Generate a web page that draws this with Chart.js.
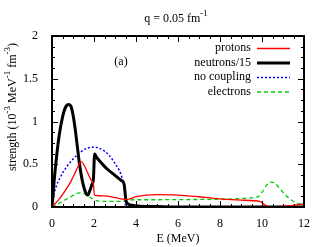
<!DOCTYPE html>
<html>
<head>
<meta charset="utf-8">
<script src="https://cdn.jsdelivr.net/npm/chart.js@4"></script>
<style>
  html, body { margin: 0; padding: 0; background: #fff; }
  #wrap { width: 327px; height: 247px; }
</style>
</head>
<body>
<div id="wrap"><canvas id="strength-chart" width="327" height="247"></canvas></div>
<script>
// energies (MeV) and strengths (10^-3 MeV^-1 fm^-3)
const eProtons = [0, 0.3, 0.6, 0.9, 1.1, 1.25, 1.38, 1.55, 1.7, 1.85, 1.97, 2.02, 2.5, 3.0, 3.5, 3.6, 4.0, 4.5, 5, 6, 7, 8, 9, 9.9, 10.2, 10.5, 11, 11.5, 12];
const protons = [0, 0.08, 0.18, 0.3, 0.4, 0.48, 0.53, 0.48, 0.4, 0.32, 0.27, 0.14, 0.13, 0.11, 0.09, 0.09, 0.12, 0.14, 0.145, 0.14, 0.12, 0.095, 0.08, 0.066, 0.015, 0.0, 0.01, 0.02, 0.035];

const eNeutrons = [0, 0.1, 0.2, 0.35, 0.5, 0.65, 0.8, 0.9, 1.0, 1.1, 1.2, 1.3, 1.45, 1.6, 1.7, 1.8, 1.9, 1.97, 2.03, 2.1, 2.3, 2.6, 3.0, 3.3, 3.43, 3.52, 3.6, 3.8, 4.2, 5, 6, 8, 10, 12];
const neutrons = [0, 0.3, 0.55, 0.85, 1.05, 1.17, 1.2, 1.18, 1.08, 0.92, 0.72, 0.52, 0.3, 0.17, 0.14, 0.19, 0.26, 0.32, 0.62, 0.59, 0.53, 0.45, 0.37, 0.31, 0.27, 0.08, 0.04, 0.02, 0.01, 0.005, 0, 0, 0, 0];

const eNoCoupling = [0, 0.05, 0.2, 0.4, 0.7, 1.0, 1.3, 1.6, 2.0, 2.4, 2.7, 3.0, 3.2, 3.35, 3.45, 3.5];
const noCoupling = [0, 0.1, 0.24, 0.35, 0.47, 0.56, 0.63, 0.68, 0.7, 0.67, 0.61, 0.51, 0.43, 0.33, 0.22, 0];

const eElectrons = [0, 0.3, 0.6, 0.9, 1.1, 1.3, 1.5, 1.7, 1.9, 2.1, 2.5, 3.0, 3.4, 3.6, 4, 5, 6, 7, 8, 9, 9.6, 9.85, 10.0, 10.2, 10.4, 10.6, 10.8, 11.0, 11.3, 11.6, 12];
const electrons = [0, 0.04, 0.08, 0.12, 0.15, 0.165, 0.16, 0.13, 0.1, 0.075, 0.066, 0.065, 0.066, 0.08, 0.085, 0.085, 0.087, 0.088, 0.09, 0.1, 0.11, 0.125, 0.17, 0.25, 0.29, 0.28, 0.23, 0.17, 0.1, 0.05, 0.025];

const xTicks = [0, 2, 4, 6, 8, 10, 12];
const yTicks = [0, 0.5, 1, 1.5, 2];

const FONT = '"Liberation Serif", "DejaVu Serif", serif';

function points(xs, ys) {
  return xs.map((x, i) => ({ x: x, y: ys[i] }));
}

// draws text with ^{...} superscripts, returns width
function richText(ctx, parts, x, y, measureOnly) {
  let cx = x;
  parts.forEach(p => {
    ctx.font = p.sup ? '9px ' + FONT : '12px ' + FONT;
    if (!measureOnly) ctx.fillText(p.t, cx, p.sup ? y - 5 : y);
    cx += ctx.measureText(p.t).width;
  });
  return cx - x;
}

const decorations = {
  id: 'decorations',
  afterDraw(chart) {
    const ctx = chart.ctx;
    const area = chart.chartArea;
    const xs = chart.scales.x;
    const ys = chart.scales.y;
    ctx.save();
    ctx.strokeStyle = '#000';
    ctx.fillStyle = '#000';

    // inward ticks, mirrored on top and right
    ctx.lineWidth = 1;
    ctx.beginPath();
    for (let v = 0; v <= 12.001; v += 0.5) {
      const px = Math.round(xs.getPixelForValue(v)) + 0.5;
      const len = (Math.abs(v % 2) < 0.01) ? 6 : 3;
      ctx.moveTo(px, area.bottom); ctx.lineTo(px, area.bottom - len);
      ctx.moveTo(px, area.top); ctx.lineTo(px, area.top + len);
    }
    for (let v = 0; v <= 2.001; v += 0.125) {
      const py = Math.round(ys.getPixelForValue(v)) + 0.5;
      const len = (Math.abs((v * 2) % 1) < 0.01) ? 6 : 3;
      ctx.moveTo(area.left, py); ctx.lineTo(area.left + len, py);
      ctx.moveTo(area.right, py); ctx.lineTo(area.right - len, py);
    }
    ctx.stroke();

    // frame
    ctx.lineWidth = 2;
    ctx.strokeRect(area.left, area.top, area.right - area.left, area.bottom - area.top);

    // title
    ctx.textBaseline = 'middle';
    ctx.textAlign = 'left';
    const title = [{ t: 'q = 0.05 fm' }, { t: '-1', sup: true }];
    const tw = richText(ctx, title, 0, 0, true);
    richText(ctx, title, 176 - tw / 2, 19);

    // y axis title, rotated
    const ylab = [{ t: 'strength (10' }, { t: '-3', sup: true }, { t: ' MeV' }, { t: '-1', sup: true }, { t: ' fm' }, { t: '-3', sup: true }, { t: ')' }];
    const yw = richText(ctx, ylab, 0, 0, true);
    ctx.save();
    ctx.translate(13, 107);
    ctx.rotate(-Math.PI / 2);
    richText(ctx, ylab, -yw / 2, 0);
    ctx.restore();

    // x axis title
    ctx.font = '12px ' + FONT;
    ctx.textAlign = 'center';
    ctx.fillText('E (MeV)', (area.left + area.right) / 2, 239);

    // panel label
    ctx.fillText('(a)', 121, 62);

    // legend
    ctx.textAlign = 'right';
    chart.data.datasets.forEach((ds, i) => {
      const ly = 48 + i * 14.5;
      ctx.fillStyle = '#000';
      ctx.fillText(ds.label, 251, ly);
      ctx.beginPath();
      ctx.strokeStyle = ds.borderColor;
      ctx.lineWidth = ds.borderWidth;
      ctx.setLineDash(ds.borderDash || []);
      ctx.moveTo(257, ly + 0.5);
      ctx.lineTo(290, ly + 0.5);
      ctx.stroke();
      ctx.setLineDash([]);
    });
    ctx.restore();
  }
};

const config = {
  type: 'line',
  data: {
    datasets: [
      { label: 'protons', data: points(eProtons, protons), borderColor: '#ff0000', borderWidth: 1.3 },
      { label: 'neutrons/15', data: points(eNeutrons, neutrons), borderColor: '#000000', borderWidth: 3 },
      { label: 'no coupling', data: points(eNoCoupling, noCoupling), borderColor: '#0000ff', borderWidth: 1.5, borderDash: [2, 2] },
      { label: 'electrons', data: points(eElectrons, electrons), borderColor: '#00cc00', borderWidth: 1.3, borderDash: [4, 3] }
    ]
  },
  options: {
    responsive: false,
    animation: false,
    layout: { padding: { top: 36, right: 23, left: 0, bottom: 0 } },
    elements: {
      point: { radius: 0 },
      line: { cubicInterpolationMode: 'monotone', fill: false }
    },
    plugins: {
      legend: { display: false },
      title: { display: false },
      tooltip: { enabled: false }
    },
    scales: {
      x: {
        type: 'linear',
        min: 0,
        max: 12,
        grid: { display: false },
        border: { display: false },
        afterBuildTicks: (scale) => { scale.ticks = xTicks.map(v => ({ value: v })); },
        afterFit: (scale) => { scale.height = 40; },
        ticks: {
          color: '#000',
          padding: 2,
          maxRotation: 0,
          autoSkip: false,
          font: { family: FONT, size: 12 }
        }
      },
      y: {
        min: 0,
        max: 2,
        grid: { display: false },
        border: { display: false },
        afterBuildTicks: (scale) => { scale.ticks = yTicks.map(v => ({ value: v })); },
        afterFit: (scale) => { scale.width = 52; },
        ticks: {
          color: '#000',
          padding: 6,
          font: { family: FONT, size: 12 },
          callback: (value) => String(value)
        }
      }
    }
  },
  plugins: [decorations]
};

window.chart = new Chart(document.getElementById('strength-chart').getContext('2d'), config);
</script>
</body>
</html>
